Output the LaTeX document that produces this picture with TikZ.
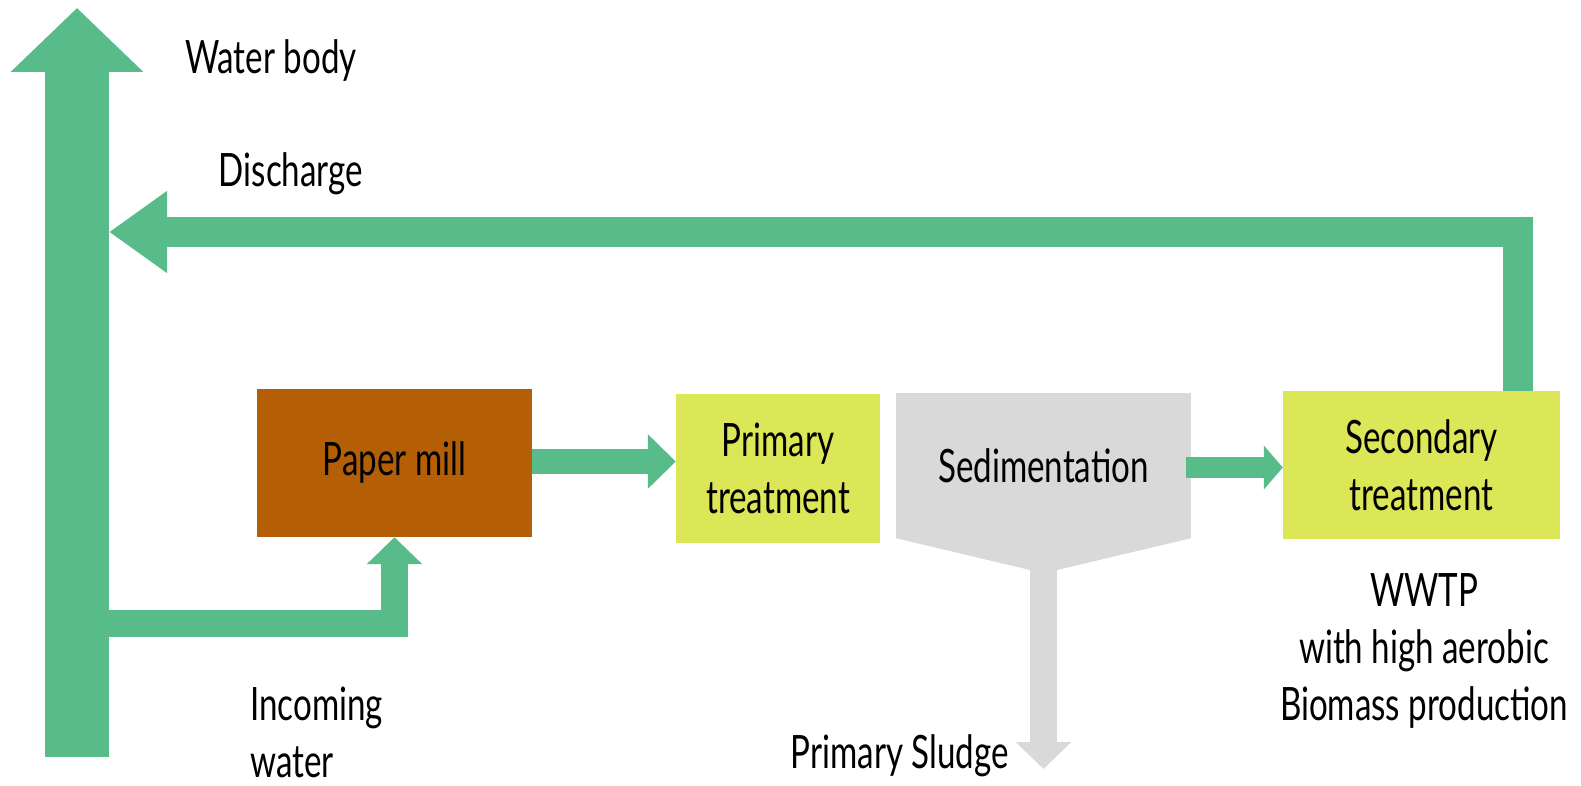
\documentclass[tikz,border=0pt]{standalone}
\usepackage{xcolor}
\usepackage{fontspec}
\setmainfont{Lato}[FakeStretch=0.72]
\usepackage{tikz}
\usetikzlibrary{positioning,arrows.meta}

\definecolor{flowgreen}{RGB}{88,188,138}
\definecolor{millbrown}{RGB}{180,95,6}
\definecolor{treatyellow}{RGB}{220,231,87}
\definecolor{sedgray}{RGB}{217,217,217}

\begin{document}
\begin{tikzpicture}[x=1pt,y=-1pt,
    every node/.style={font=\fontsize{46}{57}\selectfont, align=center, inner sep=0pt},
    unit/.style={rectangle, fill=#1, text=black},
    flow/.style={draw=flowgreen, line join=miter, line cap=butt},
    label/.style={text=black}]
    \useasboundingbox (0,0) rectangle (1581,786);

    % Boxes
    \node [unit=millbrown, minimum width=275, minimum height=148] (mill) at (394.5,463) {Paper mill};
    \node [unit=treatyellow, minimum width=204, minimum height=149] (prim) at (778,468.5) {Primary\\treatment};
    \node [unit=sedgray, minimum width=295, minimum height=145] (sed) at (1043.5,465.5) {Sedimentation};
    \node [unit=treatyellow, minimum width=277, minimum height=148] (sec) at (1421.5,465) {Secondary\\treatment};

    % Funnel under sedimentation
    \fill [sedgray] (sed.south west) -- (1030,570) -- (1057,570) -- (sed.south east) -- cycle;
    \coordinate (funnel) at (1043.5,570);
    \coordinate (sludge) at (1043.5,769);

    % Water body
    \coordinate (riverbottom) at (77,757);
    \coordinate (rivertop) at (77,8);
    \coordinate (outlet) at (109,232);
    \coordinate (inlet) at (77,623.5);

    % Arrows
    \draw [flow, line width=64, -{Triangle[width=129, length=64]}] (riverbottom) -- (rivertop);
    \draw [flow, line width=27, -{Triangle[width=54, length=27]}] (inlet) -| (mill.south);
    \draw [flow, line width=25, -{Triangle[width=53, length=28]}] (mill.east |- 0,461.5) -- (prim.west |- 0,461.5);
    \draw [flow, line width=21, -{Triangle[width=43, length=19]}] ([xshift=-5]sed.east |- 0,467.5) -- (sec.west |- 0,467.5);
    \draw [flow, line width=30, -{Triangle[width=78, length=58]}] (sec.north -| 1518,0) |- (outlet);
    \draw [draw=sedgray, line width=27, -{Triangle[width=54, length=27]}] (funnel) -- (sludge);

    % Labels
    \node [label] (waterbody) at (271,61) {Water body};
    \node [label] (discharge) at (291,174) {Discharge};
    \node [label, anchor=west, align=left] (incoming) at (250,732) {Incoming\\water};
    \node [label, anchor=east] (sludgetext) at (1009,756) {Primary Sludge};
    \node [label] (wwtp) at (1424,651) {WWTP\\with high aerobic\\Biomass production};
  \end{tikzpicture}
\end{document}
